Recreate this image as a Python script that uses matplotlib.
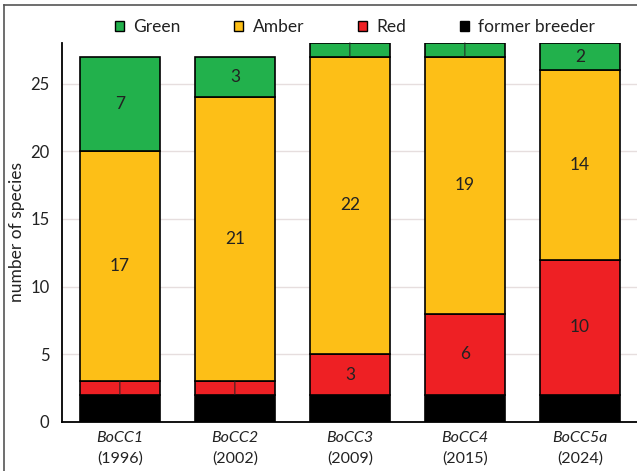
import matplotlib
matplotlib.use("Agg")
import matplotlib.pyplot as plt
from matplotlib.lines import Line2D
from matplotlib.patches import Patch
import matplotlib.transforms as mtrans

plt.rcParams['font.family'] = ['Lato', 'DejaVu Sans']

names = ["BoCC1", "BoCC2", "BoCC3", "BoCC4", "BoCC5a"]
years = ["(1996)", "(2002)", "(2009)", "(2015)", "(2024)"]
former = [2, 2, 2, 2, 2]
red = [1, 1, 3, 6, 10]
amber = [17, 21, 22, 19, 14]
green = [7, 3, 1, 1, 2]

series = [("former breeder", former, "#000000"),
          ("Red", red, "#EE2024"),
          ("Amber", amber, "#FDBF17"),
          ("Green", green, "#22B14C")]

fig = plt.figure(figsize=(6.37, 4.71), dpi=100)
ax = fig.add_axes([62/637, 49/471, 1 - 62/637, (422-43)/471])

x = list(range(len(names)))
bottom = [0]*len(names)
for label, vals, col in series:
    ax.bar(x, vals, bottom=bottom, width=0.696, color=col,
           edgecolor="black", linewidth=1.2, zorder=3, label=label)
    if label != "former breeder":
        for xi, b, v in zip(x, bottom, vals):
            if v == 1:
                ax.text(xi, b + v/2, "|", ha="center", va="center",
                        fontsize=11, color="#222222", zorder=4)
            else:
                ax.text(xi, b + v/2, str(v), ha="center", va="center",
                        fontsize=12.5, color="#222222", zorder=4)
    bottom = [b + v for b, v in zip(bottom, vals)]

ax.set_xlim(-0.504, 4.496)
ax.set_ylim(0, 28)
ax.set_yticks([0, 5, 10, 15, 20, 25])
ax.tick_params(axis="y", length=0, pad=9, labelsize=12, labelcolor="#222222")
ax.set_xticks(x)
ax.set_xticklabels([""]*len(x))
ax.tick_params(axis="x", length=0)
ax.yaxis.grid(True, color="#e6dede", linewidth=1, zorder=0)
ax.set_axisbelow(True)
for s in ["top", "right"]:
    ax.spines[s].set_visible(False)
ax.spines["left"].set_linewidth(1.3)
ax.spines["bottom"].set_linewidth(1.3)
ax.set_ylabel("number of species", fontsize=12.5, color="#222222", labelpad=4)

trans = mtrans.blended_transform_factory(ax.transData, ax.transAxes)
for xi, n, yr in zip(x, names, years):
    ax.text(xi, -0.025, n, transform=trans, ha="center", va="top",
            fontsize=11.5, style="italic", color="#222222")
    ax.text(xi, -0.077, yr, transform=trans, ha="center", va="top",
            fontsize=11.5, color="#222222")

handles = [Patch(facecolor="#22B14C", edgecolor="black"),
           Patch(facecolor="#FDBF17", edgecolor="black"),
           Patch(facecolor="#EE2024", edgecolor="black"),
           Patch(facecolor="#000000", edgecolor="black")]
labels = ["Green", "Amber", "Red", "former breeder"]
fig.legend(handles, labels, loc="center", bbox_to_anchor=(355/637, 1 - 27.5/471),
           ncol=4, frameon=False, fontsize=12.5, handlelength=0.5,
           handleheight=0.5, handletextpad=0.55, columnspacing=3.1,
           labelcolor="#222222")

fig.add_artist(Line2D([4/637, 4/637], [0, 1 - 5/471], color="#555555",
                      linewidth=1.2, transform=fig.transFigure))
fig.add_artist(Line2D([4/637, 1], [1 - 5/471, 1 - 5/471], color="#555555",
                      linewidth=1.2, transform=fig.transFigure))

fig.savefig("out.png", dpi=100)
